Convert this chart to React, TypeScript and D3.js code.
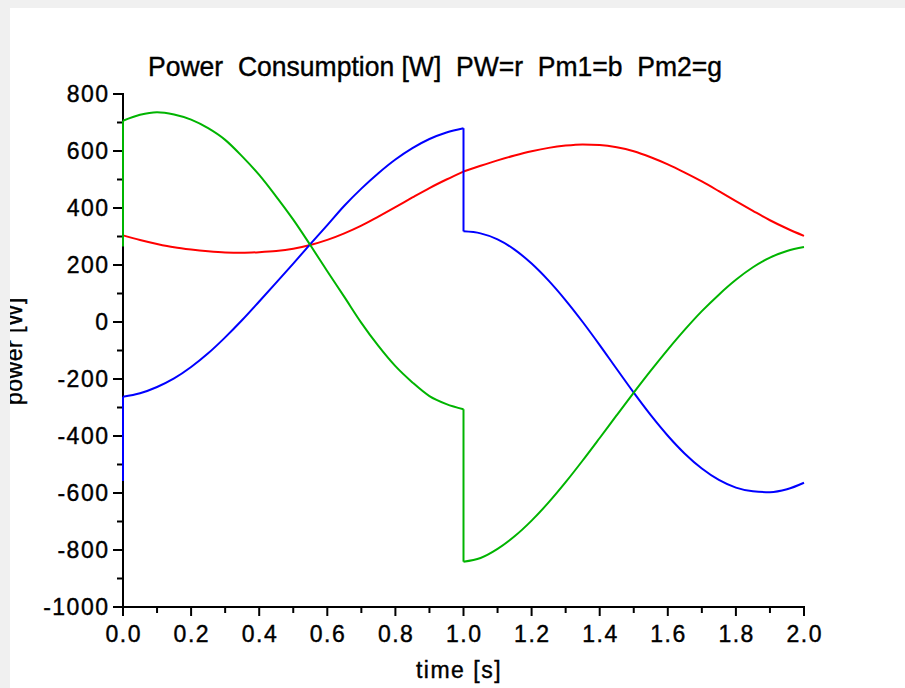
import React from 'react';
import * as d3 from 'd3';

const timeValues = [0, 0, 0.05, 0.1, 0.15, 0.2, 0.25, 0.3, 0.35, 0.4, 0.45, 0.5, 0.55, 0.6, 0.65, 0.7, 0.75, 0.8, 0.85, 0.9, 0.95, 1.0,
  1.0, 1.05, 1.1, 1.15, 1.2, 1.25, 1.3, 1.35, 1.4, 1.45, 1.5, 1.55, 1.6, 1.65, 1.7, 1.75, 1.8, 1.85, 1.9, 1.95, 2.0];

const pwValues = [304, 304, 288, 274, 262, 254, 248, 244, 243, 245, 249, 257, 270, 288, 311, 338, 370, 403, 437, 470, 500, 528,
  528, 548, 567, 584, 599, 611, 619, 623, 621, 613, 599, 578, 553, 524, 493, 459, 424, 390, 357, 328, 302];

const pm1Values = [-558, -262, -250, -228, -198, -158, -110, -54, 7, 72, 138, 205, 273, 340, 408, 468, 522, 570, 610, 642, 665, 680,
  318, 311, 290, 254, 205, 145, 76, 0, -81, -165, -248, -327, -399, -462, -514, -554, -581, -594, -597, -587, -564];

const pm2Values = [265, 706, 727, 736, 728, 710, 680, 639, 581, 516, 440, 359, 270, 178, 88, -3, -84, -155, -212, -260, -288, -306,
  -841, -828, -796, -752, -697, -633, -562, -486, -407, -327, -248, -171, -97, -27, 38, 96, 148, 192, 226, 249, 263];

const xTicks = [0, 0.2, 0.4, 0.6, 0.8, 1.0, 1.2, 1.4, 1.6, 1.8, 2.0];
const xMinor = [0.1, 0.3, 0.5, 0.7, 0.9, 1.1, 1.3, 1.5, 1.7, 1.9];
const yTicks = [-1000, -800, -600, -400, -200, 0, 200, 400, 600, 800];
const yMinor = [-900, -700, -500, -300, -100, 100, 300, 500, 700];

const titleText = 'Power  Consumption [W]  PW=r  Pm1=b  Pm2=g';
const xLabel = 'time [s]';
const yLabel = 'power [W]';

const series = [
  { name: 'PW', values: pwValues, color: '#ff0000' },
  { name: 'Pm1', values: pm1Values, color: '#0000ff' },
  { name: 'Pm2', values: pm2Values, color: '#00b400' },
];

const W = 905;
const H = 688;
const x = d3.scaleLinear().domain([0, 2]).range([123, 804]);
const y = d3.scaleLinear().domain([-1000, 800]).range([607, 94]);

function buildPaths(vals: number[]): string[] {
  const pts = timeValues.map((t, i) => [t, vals[i]] as [number, number]);
  const paths: string[] = [];
  const smooth = d3.line<[number, number]>().x(d => x(d[0])).y(d => y(d[1])).curve(d3.curveMonotoneX);
  const straight = d3.line<[number, number]>().x(d => x(d[0])).y(d => y(d[1]));
  let run: [number, number][] = [pts[0]];
  for (let i = 1; i < pts.length; i++) {
    if (pts[i][0] === pts[i - 1][0]) {
      if (run.length > 1) paths.push(smooth(run) as string);
      paths.push(straight([pts[i - 1], pts[i]]) as string);
      run = [pts[i]];
    } else {
      run.push(pts[i]);
    }
  }
  if (run.length > 1) paths.push(smooth(run) as string);
  return paths;
}

const font = "'Liberation Sans', Arial, Helvetica, sans-serif";
const textStyle = { whiteSpace: 'pre' as const };

export default function App() {
  return (
    <div style={{ position: 'absolute', left: 0, top: 0 }}>
      <svg width={W} height={H} style={{ display: 'block' }}>
        <defs>
          <clipPath id="whiteArea">
            <rect x={10} y={8} width={W - 10} height={H - 8} />
          </clipPath>
        </defs>
        <rect x={0} y={0} width={W} height={H} fill="#f0f0f0" />
        <rect x={10} y={8} width={W - 10} height={H - 8} fill="#ffffff" />

        <text x={435} y={76} textAnchor="middle" fontFamily={font} fontSize={28} style={textStyle}
          xmlSpace="preserve" textLength={574} lengthAdjust="spacingAndGlyphs" fill="#000"
          stroke="#000" strokeWidth={0.4}>{titleText}</text>

        {/* y axis */}
        <line x1={x(0)} x2={x(0)} y1={y(800) - 1} y2={y(-1000) + 1} stroke="#000" strokeWidth={2} />
        {yTicks.map(v => (
          <g key={'yt' + v}>
            <line x1={x(0) - 10} x2={x(0)} y1={y(v)} y2={y(v)} stroke="#000" strokeWidth={2} />
            <text x={109.5} y={y(v)} dy="0.36em" textAnchor="end" fontFamily={font} fontSize={23}
              letterSpacing={1.5} fill="#000" stroke="#000" strokeWidth={0.4}>{String(v)}</text>
          </g>
        ))}
        {yMinor.map(v => (
          <line key={'ym' + v} x1={x(0) - 6} x2={x(0)} y1={y(v)} y2={y(v)} stroke="#000" strokeWidth={2} />
        ))}

        {/* x axis */}
        <line x1={x(0) - 1} x2={x(2) + 1} y1={y(-1000)} y2={y(-1000)} stroke="#000" strokeWidth={2} />
        {xTicks.map(v => (
          <g key={'xt' + v}>
            <line x1={x(v)} x2={x(v)} y1={y(-1000)} y2={y(-1000) + 9} stroke="#000" strokeWidth={2} />
            <text x={x(v) + 0.75} y={642} textAnchor="middle" fontFamily={font} fontSize={23}
              letterSpacing={1.5} fill="#000" stroke="#000" strokeWidth={0.4}>{v.toFixed(1)}</text>
          </g>
        ))}
        {xMinor.map(v => (
          <line key={'xm' + v} x1={x(v)} x2={x(v)} y1={y(-1000)} y2={y(-1000) + 6} stroke="#000" strokeWidth={2} />
        ))}

        <text x={459} y={678} textAnchor="middle" fontFamily={font} fontSize={23} style={textStyle}
          letterSpacing={1.5} fill="#000" stroke="#000" strokeWidth={0.4}>{xLabel}</text>

        <g clipPath="url(#whiteArea)">
          <text transform="translate(22,351) rotate(-90)" textAnchor="middle" fontFamily={font} fontSize={23}
            style={textStyle} letterSpacing={0.5} fill="#000" stroke="#000" strokeWidth={0.4}>{yLabel}</text>
        </g>

        {series.map(s => (
          <g key={s.name}>
            {buildPaths(s.values).map((d, i) => (
              <path key={i} d={d} fill="none" stroke={s.color} strokeWidth={2} strokeLinejoin="miter" />
            ))}
          </g>
        ))}
      </svg>
    </div>
  );
}
